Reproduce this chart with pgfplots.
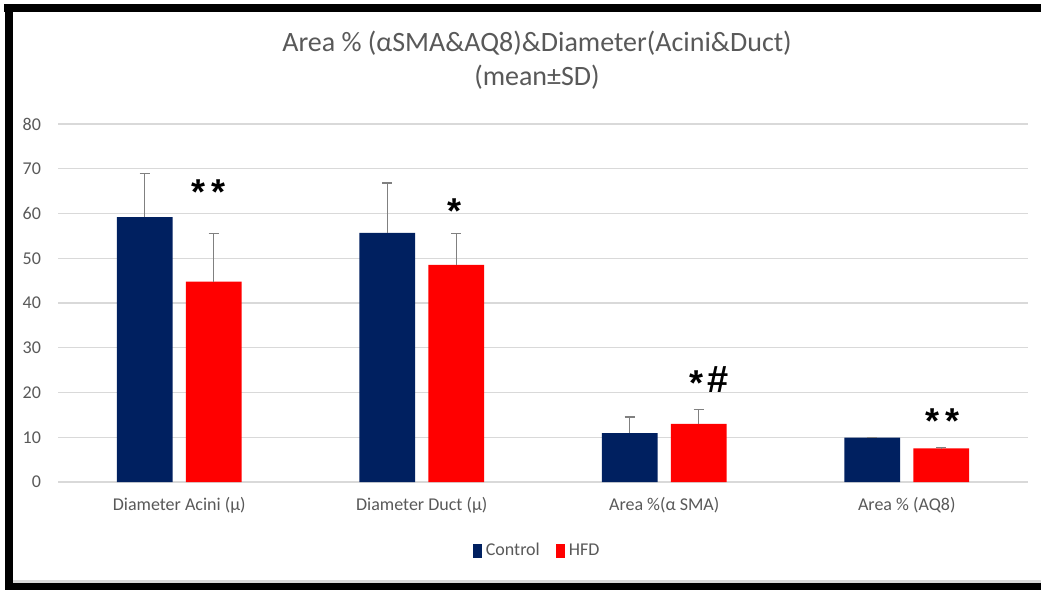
\documentclass[border=0pt]{standalone}
\usepackage{fontspec}
\setmainfont{Carlito}
\newfontfamily\starfont{Liberation Sans}
\usepackage{pgfplots}
\pgfplotsset{compat=1.18}
\definecolor{navy}{HTML}{002060}
\definecolor{hfd}{HTML}{FF0000}
\definecolor{txt}{HTML}{595959}
\definecolor{gridc}{HTML}{D9D9D9}
\tikzset{sig/.style={inner sep=0pt, font=\starfont\bfseries\fontsize{18}{20}\selectfont},
  hash/.style={inner sep=0pt, font=\starfont\bfseries\fontsize{19}{21}\selectfont}}
\begin{document}
\begin{tikzpicture}
\fill[white] (0,0) rectangle (520.5pt,-295pt);
\fill[black] (2pt,-2.2pt) rectangle (520.5pt,-6.2pt);
\fill[black] (2.4pt,-2.2pt) rectangle (6.4pt,-295pt);
\fill[black!15] (6.4pt,-290.2pt) rectangle (520.5pt,-291.3pt);
\fill[black] (2.4pt,-291.5pt) rectangle (520.5pt,-295pt);
\begin{axis}[
 at={(29pt,-241pt)}, anchor=south west,
 scale only axis, width=485pt, height=179pt,
 ybar=6.7pt, bar width=27.8pt,
 xmin=-0.5, xmax=3.5, ymin=0, ymax=80,
 ytick={0,10,...,80},
 xtick={0,1,2,3},
 xticklabels={Diameter Acini (µ), Diameter Duct (µ), Area \%(α SMA), Area \% (AQ8)},
 axis line style={draw=none},
 major tick length=0pt,
 ymajorgrids, grid style={gridc, line width=0.6pt},
 tick label style={font=\fontsize{9}{11}\selectfont, text=txt},
 /pgf/number format/assume math mode=true,
 yticklabel style={xshift=-5pt},
 xticklabel style={yshift=-4pt},
 legend style={at={(0.495,-0.193)}, anchor=center, draw=none, legend columns=2,
   font=\fontsize{9}{11}\selectfont, text=txt,
   /tikz/every even column/.append style={column sep=6pt}},
 legend image code/.code={\fill[#1] (0pt,-3.5pt) rectangle (4.5pt,3.5pt);},
 error bars/y dir=plus, error bars/y explicit,
 error bars/error bar style={color=gray, line width=0.7pt},
 error bars/error mark options={rotate=90, mark size=2.5pt, color=gray, line width=0.7pt},
 clip=false,
]
\addplot[fill=navy, draw=none] coordinates {(0,59.2) +- (0,9.8) (1,55.7) +- (0,11.1) (2,10.9) +- (0,3.6) (3,9.9) +- (0,0.1)};
\addplot[fill=hfd, draw=none] coordinates {(0,44.8) +- (0,10.8) (1,48.5) +- (0,7.1) (2,13.0) +- (0,3.2) (3,7.5) +- (0,0.15)};
\legend{Control, HFD}
\node[sig, anchor=north] at (axis cs:0.119,67.7) {*\hspace{3pt}*};
\node[sig, anchor=north] at (axis cs:1.137,63.5) {*};
\node[sig, anchor=north] at (axis cs:2.131,25.0) {*};
\node[hash, anchor=north] at (axis cs:2.222,25.8) {\#};
\node[sig, anchor=north] at (axis cs:3.147,16.5) {*\hspace{3pt}*};
\end{axis}
\node[anchor=base, font=\fontsize{14}{17}\selectfont, text=txt] at (268.5pt,-25.5pt) {Area \% (αSMA\&AQ8)\&Diameter(Acini\&Duct)};
\node[anchor=base, font=\fontsize{14}{17}\selectfont, text=txt] at (268.5pt,-42.5pt) {(mean±SD)};
\end{tikzpicture}
\end{document}
